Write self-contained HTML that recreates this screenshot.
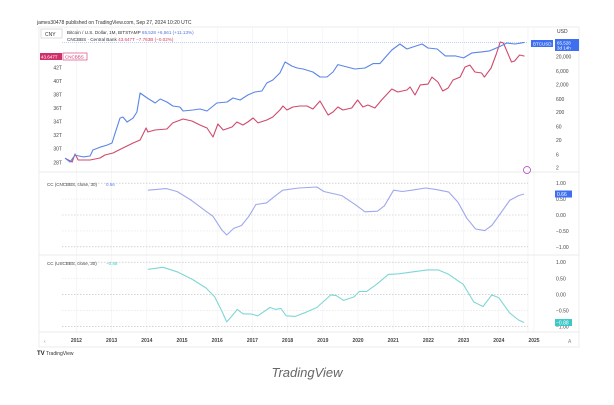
<!DOCTYPE html>
<html><head><meta charset="utf-8">
<style>
body{margin:0;background:#fff;width:614px;height:400px;overflow:hidden;font-family:"Liberation Sans",sans-serif}
svg text{font-family:"Liberation Sans",sans-serif}
</style></head>
<body>
<svg id="c" width="614" height="400" xmlns="http://www.w3.org/2000/svg">
<text x="37" y="24" font-size="5" fill="#333">james30478 published on TradingView.com, Sep 27, 2024 10:20 UTC</text>
<rect x="39" y="27" width="540" height="320" fill="none" stroke="#eee"/>
<g id="grid"></g>
<g id="series"></g>
<rect x="41" y="29" width="21" height="9" fill="#fff" stroke="#ddd"/>
<text x="45" y="36" font-size="5" fill="#333">CNY</text>
<text x="67" y="34" font-size="4.6" fill="#333">Bitcoin / U.S. Dollar, 1M, BITSTAMP <tspan fill="#4a78e0">65,528  +6,561 (+11.13%)</tspan></text>
<text x="67" y="41" font-size="4.6" fill="#333">CNCBBS · Central Bank <tspan fill="#d04060">43.647T  −7.763B (−0.02%)</tspan></text>
<rect x="40" y="53" width="22" height="7" fill="#d0306a"/>
<text x="41" y="58.5" font-size="4.5" fill="#fff">43.647T</text>
<rect x="63" y="53" width="24" height="7" fill="#fff" stroke="#d0306a" stroke-width="0.6"/>
<text x="65" y="58.5" font-size="4.5" fill="#d0306a">CNCBBS</text>
<text x="557" y="33" font-size="5" fill="#333">USD</text>
<rect x="531" y="40" width="22" height="7" fill="#3d6ff0"/>
<text x="533" y="45.5" font-size="4.5" fill="#fff">BTCUSD</text>
<rect x="555" y="39" width="24" height="12" fill="#3d6ff0"/>
<text x="557" y="44.5" font-size="4.5" fill="#fff">65,528</text>
<text x="557" y="49.5" font-size="4.5" fill="#fff">3d 14h</text>
<circle cx="527" cy="170" r="3.5" fill="none" stroke="#b040c0" stroke-width="0.8"/>
<text x="44" y="343" font-size="5" fill="#888">‹</text>
<text x="568" y="343" font-size="5" fill="#888">A</text>
<text x="37" y="355" font-size="6" font-weight="bold" fill="#222">TV</text>
<text x="46" y="355" font-size="5" fill="#333">TradingView</text>
<text x="307" y="377" font-size="13" font-style="italic" fill="#666" text-anchor="middle">TradingView</text>
</svg>
<script>
const btcT=[2011.68,2011.82,2011.96,2012.19,2012.39,2012.47,2012.67,2012.87,2013.01,2013.10,2013.24,2013.32,2013.44,2013.61,2013.72,2013.81,2014.01,2014.24,2014.38,2014.57,2014.74,2014.94,2015.03,2015.31,2015.51,2015.71,2015.99,2016.28,2016.45,2016.65,2016.87,2017.07,2017.27,2017.41,2017.58,2017.78,2017.93,2018.12,2018.27,2018.44,2018.72,2018.92,2019.12,2019.29,2019.43,2019.69,2019.91,2020.2,2020.43,2020.62,2020.96,2021.19,2021.39,2021.56,2021.82,2021.99,2022.25,2022.48,2022.76,2023.0,2023.24,2023.51,2023.74,2024.0,2024.23,2024.46,2024.73];
const btcV=[4.4,3.2,5.7,4.9,5.3,8.7,11,13,15.5,35,123,134,89,123,203,984,649,430,598,467,335,308,221,240,261,221,430,467,649,550,832,1070,1160,2250,2890,5170,12900,9230,7830,7200,5610,3710,3710,5610,10400,8490,7200,7830,11300,11300,34800,57300,37800,44700,57300,41100,37800,21400,21400,18100,27400,29800,32400,44700,62400,57300,65528];
const cnT=[2011.68,2011.88,2011.96,2012.05,2012.39,2012.67,2012.81,2013.04,2013.32,2013.61,2013.81,2013.98,2014.03,2014.23,2014.57,2014.74,2015.03,2015.28,2015.51,2015.71,2015.88,2016.02,2016.17,2016.42,2016.56,2016.73,2016.87,2017.02,2017.16,2017.41,2017.58,2017.78,2017.87,2017.98,2018.15,2018.35,2018.55,2018.72,2018.92,2019.15,2019.29,2019.43,2019.57,2019.82,2019.99,2020.14,2020.28,2020.48,2020.67,2020.96,2021.13,2021.39,2021.48,2021.62,2021.77,2021.99,2022.1,2022.27,2022.41,2022.56,2022.7,2022.9,2023.04,2023.18,2023.32,2023.51,2023.59,2023.78,2023.93,2024.04,2024.13,2024.36,2024.45,2024.59,2024.73];
const cnV=[28.59,28.04,29.22,28.34,28.34,28.63,29.08,29.37,30.11,30.84,31.29,33.05,32.47,32.76,32.91,33.8,34.38,34.09,33.5,33.05,31.73,33.64,32.76,33.2,33.94,33.5,33.94,34.53,33.8,34.23,34.68,35.71,36.3,35.71,36.15,36.3,36.3,35.85,37.03,34.97,35.41,36.15,35.71,36.0,37.18,36.15,36.44,36.0,37.18,38.8,38.36,38.65,39.1,37.92,39.4,39.53,40.56,39.83,38.5,38.95,40.13,40.56,42.04,42.33,41.3,41.16,40.56,41.9,43.96,45.73,45.58,42.78,42.93,43.81,43.647];
const cc1T=[2014.03,2014.56,2014.86,2015.27,2015.68,2015.88,2016.13,2016.27,2016.47,2016.69,2016.9,2017.1,2017.4,2017.61,2017.86,2018.32,2018.83,2019.03,2019.54,2019.94,2020.2,2020.55,2020.75,2021.01,2021.26,2021.57,2021.92,2022.23,2022.58,2022.84,2023.09,2023.34,2023.6,2023.8,2024.06,2024.31,2024.56,2024.72];
const cc1V=[0.78,0.83,0.74,0.46,0.12,-0.04,-0.47,-0.63,-0.42,-0.33,-0.04,0.33,0.38,0.57,0.78,0.85,0.88,0.74,0.61,0.31,0.10,0.12,0.29,0.78,0.74,0.79,0.85,0.8,0.72,0.40,-0.10,-0.44,-0.49,-0.33,0.07,0.46,0.61,0.66];
const cc2T=[2014.03,2014.46,2014.86,2015.27,2015.68,2015.93,2016.13,2016.27,2016.41,2016.57,2016.74,2016.95,2017.15,2017.5,2017.66,2017.81,2017.96,2018.22,2018.52,2018.83,2019.23,2019.38,2019.59,2019.89,2020.04,2020.25,2020.55,2020.86,2021.16,2021.57,2021.97,2022.28,2022.58,2022.99,2023.29,2023.55,2023.8,2024.0,2024.31,2024.56,2024.72];
const cc2V=[0.78,0.84,0.7,0.48,0.2,-0.08,-0.52,-0.86,-0.69,-0.47,-0.61,-0.61,-0.67,-0.41,-0.47,-0.44,-0.67,-0.69,-0.56,-0.41,-0.02,-0.04,-0.19,-0.08,0.09,0.09,0.33,0.62,0.64,0.7,0.76,0.76,0.62,0.31,-0.24,-0.38,-0.02,-0.11,-0.58,-0.8,-0.88];
const years=[2012,2013,2014,2015,2016,2017,2018,2019,2020,2021,2022,2023,2024,2025];
const leftTicks=[28,30,32,34,36,38,40,42];
const rightTicks=[20000,6000,2000,600,200,60,20,6,2];
const ccTicks=[1,0.5,0,-0.5,-1];

const NS="http://www.w3.org/2000/svg";
const X=t=>76.4+(t-2012)*35.2;
const YL=v=>162.3-(v-28)*6.786;
const YR=p=>167.7-(Math.log10(p)-Math.log10(2))*27.75;
const YC1=v=>215-v*31.8;
const YC2=v=>294.3-v*32.1;
function mk(tag,attrs,parent){const e=document.createElementNS(NS,tag);for(const k in attrs)e.setAttribute(k,attrs[k]);document.getElementById(parent).appendChild(e);return e;}
function txt(x,y,s,anchor,parent){const e=mk('text',{x:x,y:y,'font-size':5,fill:'#444','text-anchor':anchor},parent);e.textContent=s;return e;}

// vertical grid
years.forEach(y=>{const l=mk('line',{x1:X(y),x2:X(y),y1:27,y2:332,stroke:'#f1f1f4','stroke-width':0.6},'grid');


const t=txt(X(y),342,String(y),'middle','grid');
t.setAttribute('font-weight','bold');

});
// panel dividers
[172,255,332].forEach(y=>{const l=mk('line',{x1:39,x2:579,y1:y,y2:y,stroke:'#e4e4e8','stroke-width':0.7},'grid');

});
mk('line',{x1:528,x2:528,y1:27,y2:332,stroke:'#ececf0','stroke-width':0.6},'grid');
leftTicks.forEach(v=>{const t=txt(62,YL(v)+2,v+'T','end','grid');

});
rightTicks.forEach(v=>{const t=txt(556,YR(v)+2,v.toLocaleString('en-US'),'start','grid');

});
[[YC1,'cc1'],[YC2,'cc2']].forEach(([f,n])=>{ccTicks.forEach(v=>{
const l=mk('line',{x1:62,x2:528,y1:f(v),y2:f(v),stroke:v===0.5||v===-0.5?'#e2e2e2':'#bbb','stroke-width':0.6,'stroke-dasharray':'1.5,1.5'},'grid');


const t=txt(556,f(v)+2,v.toFixed(2).replace('-','−'),'start','grid');

});});
// last price line
const lp=mk('line',{x1:62,x2:528,y1:YR(65528),y2:YR(65528),stroke:'#7c9ff0','stroke-width':0.5,'stroke-dasharray':'1,1'},'grid');



function line(T,V,f,color,name){const d=T.map((t,i)=>(i?'L':'M')+X(t).toFixed(1)+','+f(V[i]).toFixed(1)).join('');
const p=mk('path',{d:d,fill:'none',stroke:color,'stroke-width':1.1,'stroke-linejoin':'round'},'series');

}
line(cnT,cnV,YL,'#d04a6a','cncbbs-line');
line(btcT,btcV,YR,'#5a86e6','btc-line');
line(cc1T,cc1V,YC1,'#9fa8ee','cc-cncbbs-line');
line(cc2T,cc2V,YC2,'#7fd6d6','cc-uscbbs-line');

let t1=txt(47,186,'CC (CNCBBS, close, 30)','start','series');t1.setAttribute('font-size','4.5');


let v1=txt(106,186,'0.66','start','series');v1.setAttribute('fill','#5a7ef0');v1.setAttribute('font-size','4.5');
let t2=txt(47,265,'CC (USCBBS, close, 30)','start','series');t2.setAttribute('font-size','4.5');


let v2=txt(106,265,'−0.88','start','series');v2.setAttribute('fill','#3cc8c8');v2.setAttribute('font-size','4.5');
const tg1=mk('rect',{x:555,y:YC1(0.66)-3.5,width:17,height:7,fill:'#3d6ff0'},'series');


let a=txt(557,YC1(0.66)+1.8,'0.66','start','series');a.setAttribute('fill','#fff');
const tg2=mk('rect',{x:555,y:YC2(-0.88)-3.5,width:17,height:7,fill:'#3cc8c8'},'series');


let b=txt(556,YC2(-0.88)+1.8,'−0.88','start','series');b.setAttribute('fill','#fff');
</script>
</body></html>
